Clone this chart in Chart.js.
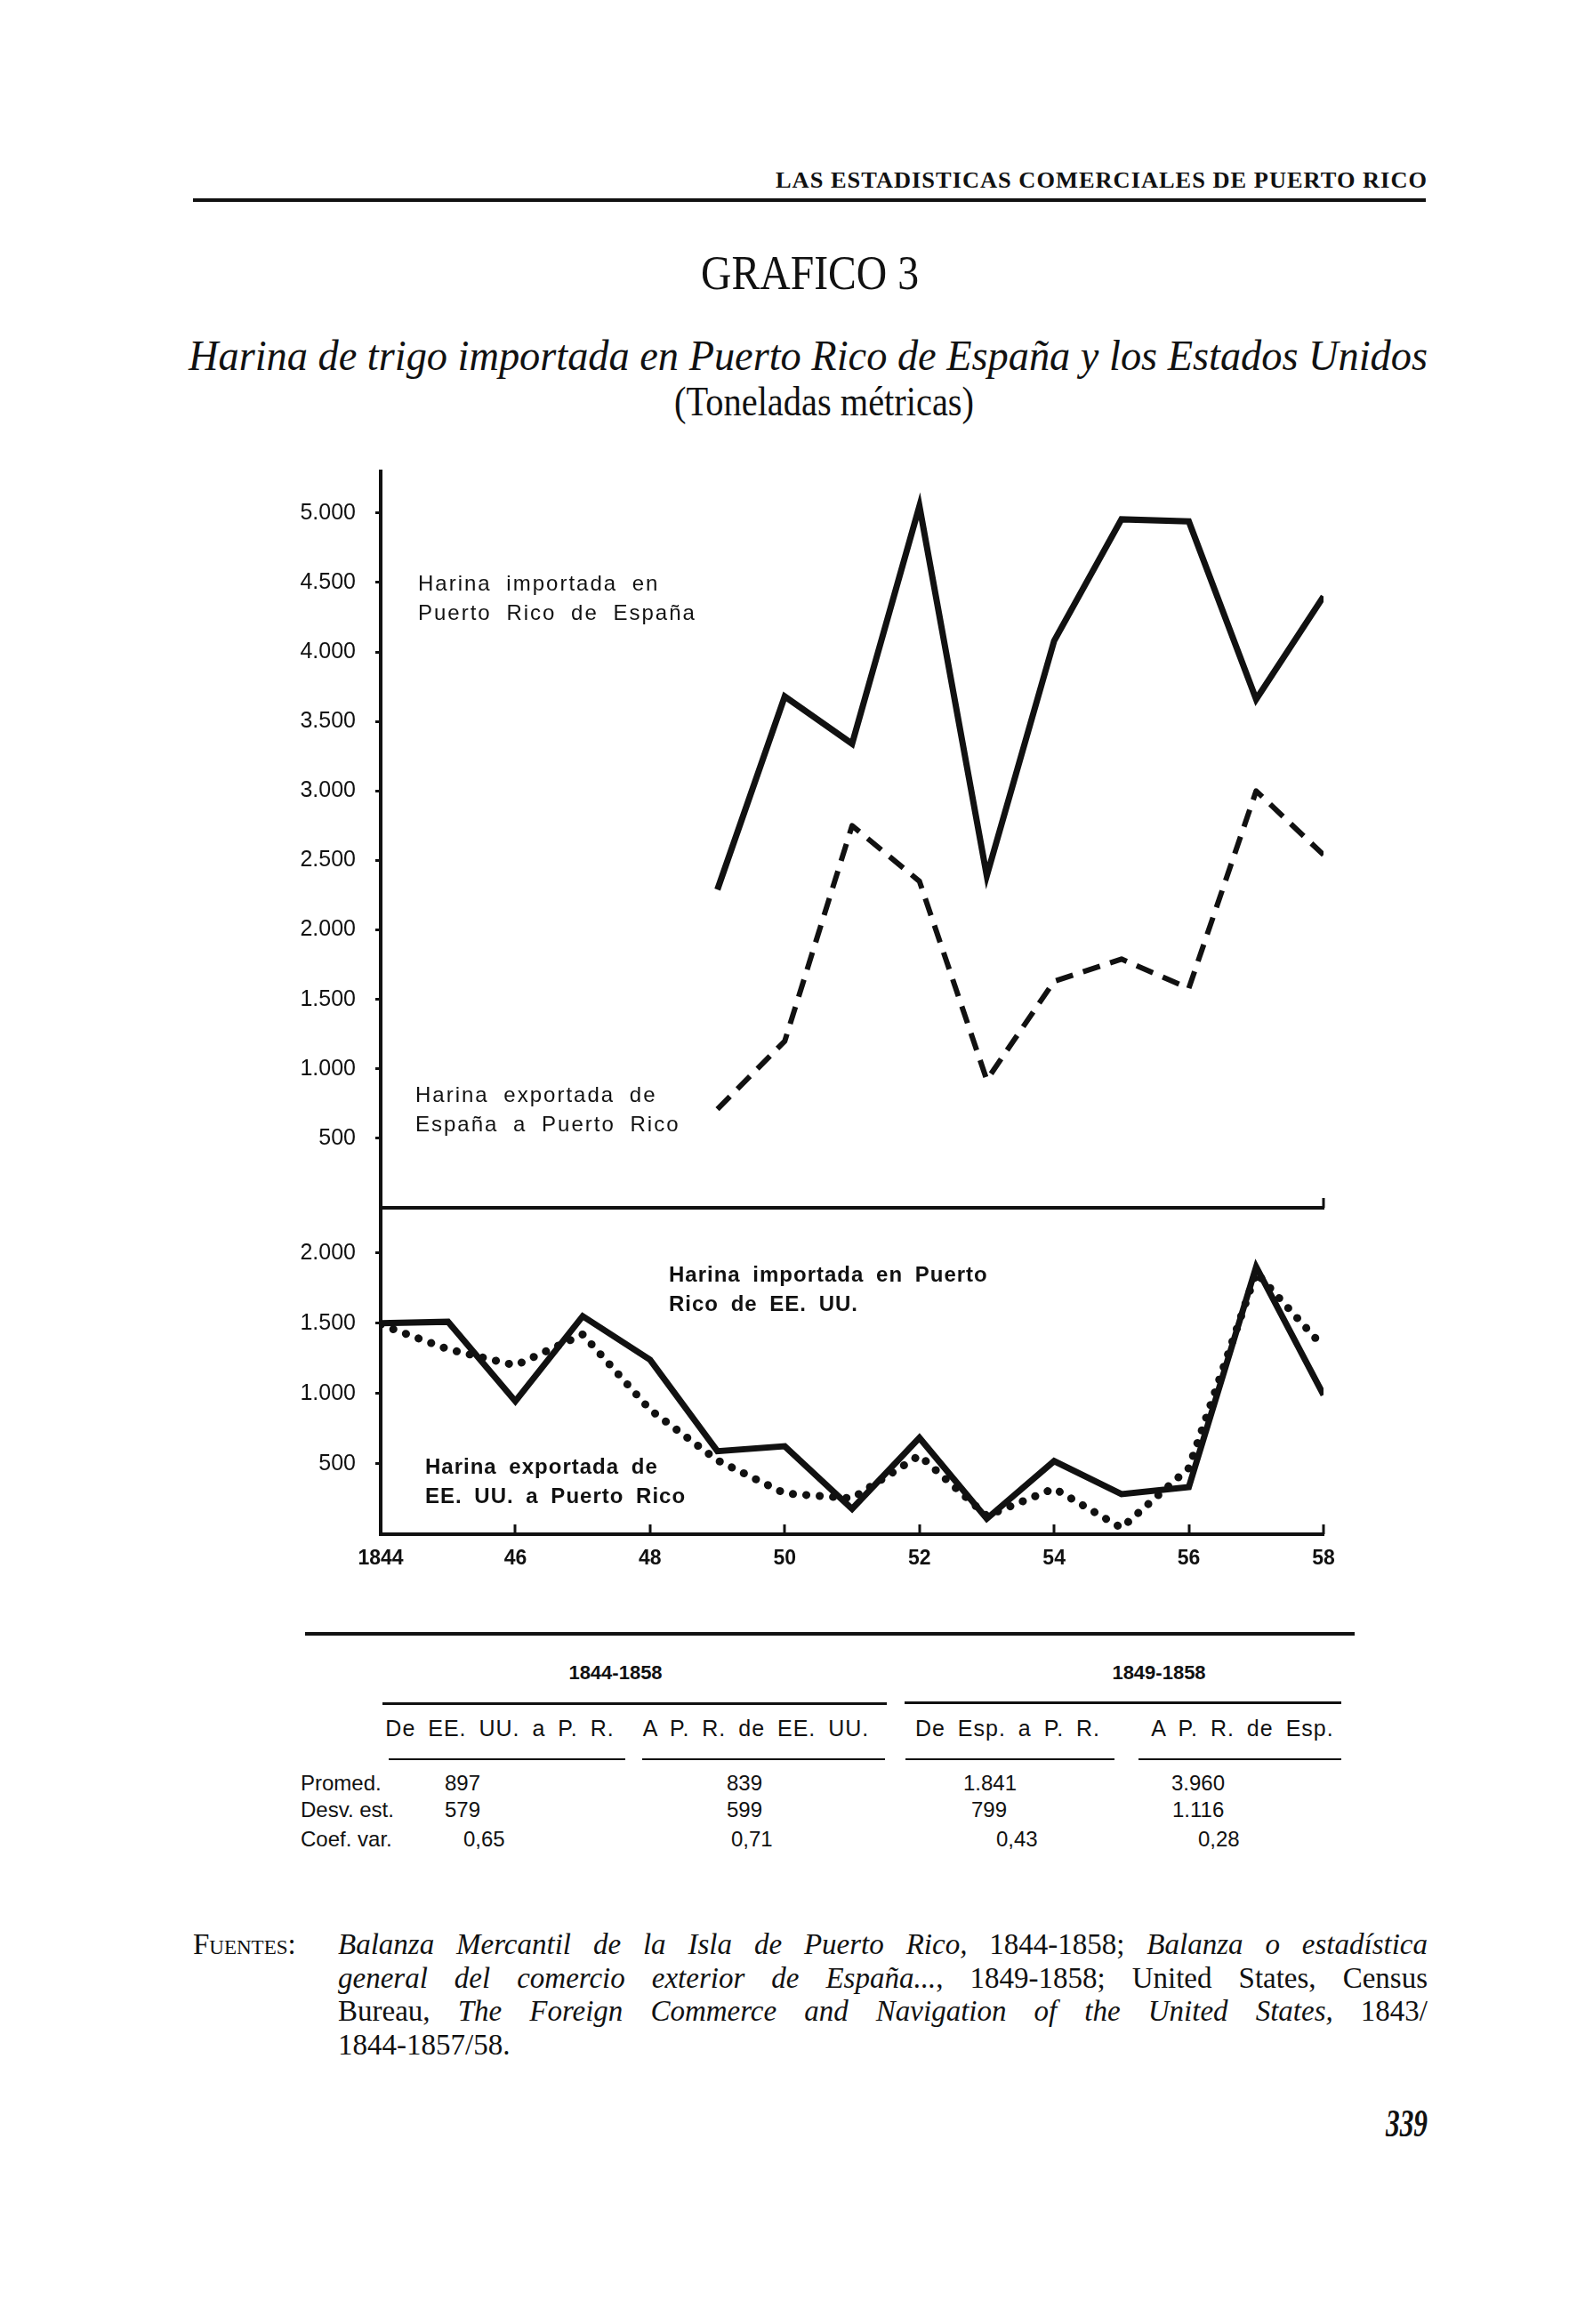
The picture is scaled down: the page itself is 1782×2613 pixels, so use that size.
<!DOCTYPE html>
<html><head><meta charset="utf-8">
<script src="https://cdn.jsdelivr.net/npm/chart.js@4.4.0/dist/chart.umd.min.js"></script>
<style>
html,body{margin:0;padding:0;background:#fff;}
body{width:1782px;height:2613px;position:relative;overflow:hidden;color:#111;}
.abs{position:absolute;white-space:nowrap;transform-origin:0 50%;}
.serif{font-family:"Liberation Serif","DejaVu Serif",serif;}
.rule{position:absolute;background:#111;}
.lbl{position:absolute;white-space:nowrap;font-family:"Liberation Sans",Arial,sans-serif;font-size:24px;letter-spacing:2px;word-spacing:8px;line-height:33px;color:#111;}
.tb{position:absolute;white-space:nowrap;font-family:"Liberation Sans Narrow","Arial Narrow","Liberation Sans",sans-serif;font-weight:bold;font-size:24px;line-height:28px;color:#111;}
.fu{position:absolute;left:380px;width:1225px;font-family:"Liberation Serif",serif;font-size:33px;line-height:37.5px;color:#111;}
.fu div{text-align:justify;text-align-last:justify;white-space:nowrap;}
.fu div.last{text-align-last:left;}
canvas{position:absolute;}
</style></head><body>

<div class="abs serif" id="hdr" style="left:872px;top:186px;font-size:26px;line-height:34px;letter-spacing:1px;font-weight:bold;">LAS ESTADISTICAS COMERCIALES DE PUERTO RICO</div>
<div class="rule" style="left:217px;top:223px;width:1386px;height:4px;"></div>
<div class="abs serif" id="gr" style="left:788px;top:276px;font-size:54px;line-height:62px;">GRAFICO 3</div>
<div class="abs serif" id="sub" style="left:212px;top:372px;font-size:48px;line-height:56px;font-style:italic;">Harina de trigo importada en Puerto Rico de España y los Estados Unidos</div>
<div class="abs serif" id="ton" style="left:758px;top:425px;font-size:46px;line-height:54px;">(Toneladas métricas)</div>

<canvas id="cTop" width="1240" height="870" style="left:300px;top:500px;width:1240px;height:870px;"></canvas>
<canvas id="cBot" width="1240" height="460" style="left:300px;top:1340px;width:1240px;height:460px;"></canvas>

<div class="lbl" style="left:470px;top:639px;">Harina importada en<br>Puerto Rico de España</div>
<div class="lbl" style="left:467px;top:1214px;">Harina exportada de<br>España a Puerto Rico</div>
<div class="lbl" style="left:752px;top:1416px;font-weight:bold;letter-spacing:1px;word-spacing:6px;">Harina importada en Puerto<br>Rico de EE. UU.</div>
<div class="lbl" style="left:478px;top:1632px;font-weight:bold;letter-spacing:1px;word-spacing:6px;">Harina exportada de<br>EE. UU. a Puerto Rico</div>

<div class="rule" style="left:343px;top:1835px;width:1180px;height:4px;"></div>
<div id="table"></div>

<div class="abs serif" style="left:217px;top:2168px;font-size:33px;line-height:37.5px;font-variant:small-caps;">Fuentes:</div>
<div class="fu" style="top:2168px;">
<div><i>Balanza Mercantil de la Isla de Puerto Rico,</i> 1844-1858; <i>Balanza o estadística</i></div>
<div><i>general del comercio exterior de España...</i>, 1849-1858; United States, Census</div>
<div>Bureau, <i>The Foreign Commerce and Navigation of the United States,</i> 1843/</div>
<div class="last">1844-1857/58.</div>
</div>
<div class="abs serif" id="pg" style="left:1558px;top:2362px;font-size:44px;line-height:52px;font-style:italic;font-weight:bold;">339</div>

<script>
// ---- data ----
const years = [1844,1845,1846,1847,1848,1849,1850,1851,1852,1853,1854,1855,1856,1857,1858];
const spainYears = [1849,1850,1851,1852,1853,1854,1855,1856,1857,1858];
const spainImports = [2290,3680,3340,5050,2390,4080,4955,4940,3660,4400];
const spainExports = [710,1200,2750,2350,920,1630,1790,1580,3000,2540];
const usImports = [1500,1510,945,1550,1240,590,625,180,685,110,520,285,335,1900,990];
const usExports = [1490,1315,1200,1420,885,525,290,255,560,130,325,45,470,1860,1330];
const yTopTicks = [500,1000,1500,2000,2500,3000,3500,4000,4500,5000];
const yTopLabels = ['500','1.000','1.500','2.000','2.500','3.000','3.500','4.000','4.500','5.000'];
const yBotTicks = [500,1000,1500,2000];
const yBotLabels = ['500','1.000','1.500','2.000'];
const xTickYears = [1844,1846,1848,1850,1852,1854,1856,1858];
const xTickLabels = ['1844','46','48','50','52','54','56','58'];

// stats table
const tableGroups = ['1844-1858','1849-1858'];
const tableCols = ['De EE. UU. a P. R.','A P. R. de EE. UU.','De Esp. a P. R.','A P. R. de Esp.'];
const tableRows = ['Promed.','Desv. est.','Coef. var.'];
const tableVals = [['897','839','1.841','3.960'],['579','599','799','1.116'],['0,65','0,71','0,43','0,28']];

const INK = '#111';
const pts = (xs, ys) => xs.map((x,i)=>({x:x, y:ys[i]}));

// draws small upward tick marks on the x axis
const innerTicks = {
  id:'innerTicks',
  afterDraw(chart, args, opts){
    const ctx = chart.ctx, xs = chart.scales.x, bottom = chart.chartArea.bottom;
    ctx.save(); ctx.strokeStyle = INK; ctx.lineWidth = 3;
    (opts.values||[]).forEach(v=>{
      const px = Math.round(xs.getPixelForValue(v));
      ctx.beginPath(); ctx.moveTo(px, bottom); ctx.lineTo(px, bottom-11); ctx.stroke();
    });
    ctx.restore();
  }
};

function yScale(max, ticks, labels){
  return {
    min:0, max:max,
    afterBuildTicks(s){ s.ticks = ticks.map(v=>({value:v})); },
    afterFit(s){ s.width = 128; s.paddingTop = 0; s.paddingBottom = 0; },
    ticks:{ color:INK, padding:22, font:{family:'"Liberation Sans", Arial, sans-serif', size:25},
      callback:(v)=>labels[ticks.indexOf(v)] },
    grid:{ drawOnChartArea:false, drawTicks:true, tickLength:6, tickWidth:3, color:INK },
    border:{ display:true, width:4, color:INK }
  };
}

const common = {
  responsive:false, animation:false, devicePixelRatio:1,
  plugins:{ legend:{display:false}, tooltip:{enabled:false} },
  elements:{ point:{radius:0}, line:{tension:0} }
};

new Chart(document.getElementById('cTop'), {
  type:'line',
  data:{ datasets:[
    { label:'Harina importada en Puerto Rico de España', data:pts(spainYears, spainImports),
      borderColor:INK, borderWidth:7, borderJoinStyle:'miter', borderCapStyle:'butt', fill:false },
    { label:'Harina exportada de España a Puerto Rico', data:pts(spainYears, spainExports),
      borderColor:INK, borderWidth:6, borderDash:[20,12], borderJoinStyle:'round', borderCapStyle:'butt', fill:false }
  ]},
  options:Object.assign({}, common, {
    layout:{ padding:{left:0,right:52,top:30,bottom:0} },
    plugins:Object.assign({}, common.plugins, { innerTicks:{ values:[1858] } }),
    scales:{
      x:{ type:'linear', min:1844, max:1858, afterFit(s){ s.height = 12; s.paddingLeft = 0; s.paddingRight = 0; },
        ticks:{display:false}, grid:{display:false, drawTicks:false}, border:{display:true,width:4,color:INK} },
      y:yScale(5300, yTopTicks, yTopLabels)
    }
  }),
  plugins:[innerTicks]
});

new Chart(document.getElementById('cBot'), {
  type:'line',
  data:{ datasets:[
    { label:'Harina importada en Puerto Rico de EE. UU.', data:pts(years, usImports),
      borderColor:INK, borderWidth:7, borderJoinStyle:'miter', borderCapStyle:'butt', fill:false },
    { label:'Harina exportada de EE. UU. a Puerto Rico', data:pts(years, usExports),
      borderColor:INK, borderWidth:9, borderDash:[0.1,15], borderCapStyle:'round', borderJoinStyle:'round', fill:false }
  ]},
  options:Object.assign({}, common, {
    layout:{ padding:{left:0,right:52,top:18,bottom:0} },
    plugins:Object.assign({}, common.plugins, { innerTicks:{ values:xTickYears } }),
    scales:{
      x:{ type:'linear', min:1844, max:1858, afterFit(s){ s.height = 75; s.paddingLeft = 0; s.paddingRight = 0; },
        afterBuildTicks(s){ s.ticks = xTickYears.map(v=>({value:v})); },
        ticks:{ color:INK, padding:14, maxRotation:0, autoSkip:false,
          font:{family:'"Liberation Sans", Arial, sans-serif', size:23, weight:'bold'},
          callback:(v)=>xTickLabels[xTickYears.indexOf(v)] },
        grid:{display:false, drawTicks:false}, border:{display:true,width:4,color:INK} },
      y:yScale(2320, yBotTicks, yBotLabels)
    }
  }),
  plugins:[innerTicks]
});

// ---- table ----
(function(){
  const t = document.getElementById('table');
  const add = (html, style, cls) => { const d=document.createElement('div'); d.className=cls||'tb'; d.innerHTML=html; d.style.cssText=style; t.appendChild(d); return d; };
  const center = (html, cx, cy, size, extra) => { const d = add(html, `top:${cy-14}px;left:0px;font-size:${size||24}px;`+(extra||'')); d.style.left = (cx - d.getBoundingClientRect().width/2)+'px'; return d; };
  center(tableGroups[0], 692, 1881, 22);
  center(tableGroups[1], 1303, 1881, 22);
  add('', 'left:430px;top:1914px;width:567px;height:3px;background:#111;', 'rule');
  add('', 'left:1017px;top:1913px;width:491px;height:3px;background:#111;', 'rule');
  const hc = [562,850,1133,1397];
  tableCols.forEach((c,i)=>center(c, hc[i], 1943, 25, 'font-weight:normal;letter-spacing:1px;word-spacing:6px;'));
  const ur = [[437,703],[722,995],[1018,1253],[1280,1508]];
  ur.forEach(r=>add('', `left:${r[0]}px;top:1977px;width:${r[1]-r[0]}px;height:2px;background:#111;`, 'rule'));
  const ry = [2005,2035,2068];
  const vx = [[500,817,1083,1317],[500,817,1092,1318],[521,822,1120,1347]];
  tableRows.forEach((r,i)=>{
    add(r, `left:338px;top:${ry[i]-14}px;font-weight:normal;`);
    tableVals[i].forEach((v,j)=>add(v, `left:${vx[i][j]}px;top:${ry[i]-14}px;font-weight:normal;`));
  });
})();

// ---- fit condensed serif headings to measured widths ----
function fit(id, w){ const el=document.getElementById(id); const r=el.getBoundingClientRect().width; el.style.transform='scaleX('+(w/r)+')'; }
fit('hdr', 733); fit('gr', 245); fit('sub', 1393); fit('ton', 337); fit('pg', 47);
</script>
</body></html>
